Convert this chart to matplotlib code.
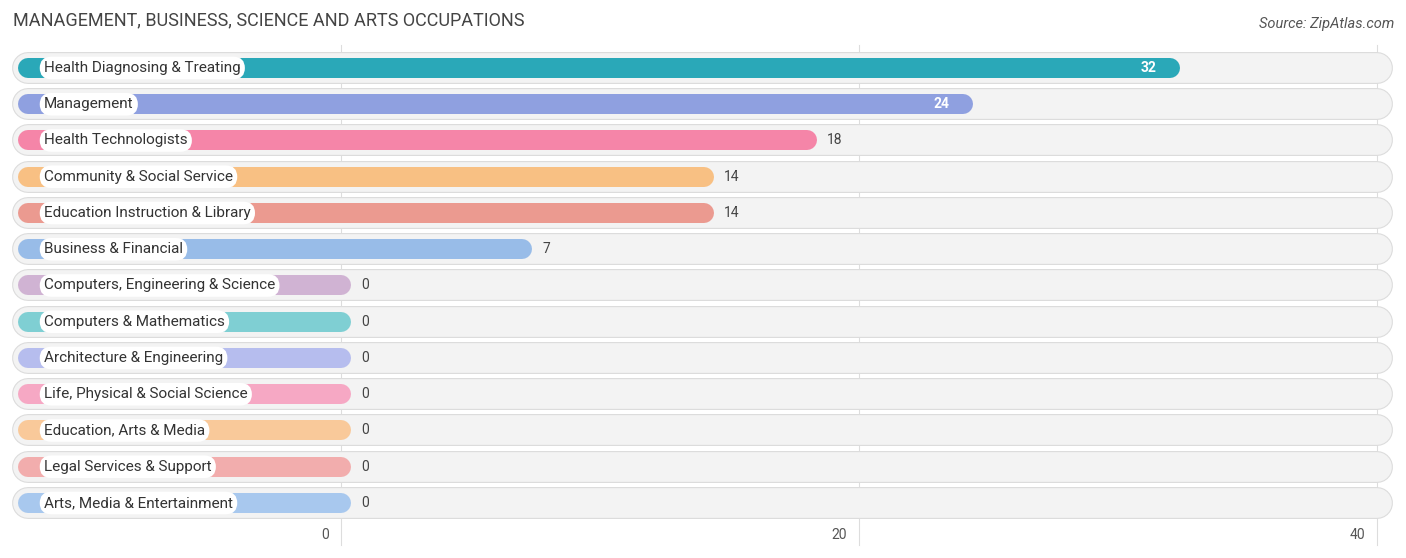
import matplotlib
matplotlib.use("Agg")
import matplotlib.pyplot as plt

categories = ["Health Diagnosing & Treating", "Management", "Health Technologists",
              "Community & Social Service", "Education Instruction & Library",
              "Business & Financial", "Computers, Engineering & Science",
              "Computers & Mathematics", "Architecture & Engineering",
              "Life, Physical & Social Science", "Education, Arts & Media",
              "Legal Services & Support", "Arts, Media & Entertainment"]
values = [32, 24, 18, 14, 14, 7, 0, 0, 0, 0, 0, 0, 0]
colors = ["#2aa8b8", "#8fa0e0", "#f585a8", "#f8c083", "#eb9a90", "#98bce8", "#d0b3d3",
          "#7fcfd3", "#b6bdee", "#f6a8c4", "#f9c99a", "#f2adad", "#a8c8ee"]
ticks = [0, 20, 40]

W, H = 1406, 558
fig = plt.figure(figsize=(W/100, H/100), dpi=100)
ax = fig.add_axes([0, 0, 1, 1])
ax.axis("off")
x0, ppu = 341, 25.9
y0, ppr = 68, 36.25
px = lambda p: (p - x0) / ppu
py = lambda p: (p - y0) / ppr
ax.set_xlim(px(0), px(W))
ax.set_ylim(py(H), py(0))

for t in ticks:
    ax.plot([t, t], [py(45), py(545)], color="#dddddd", lw=0.8, zorder=0)
    ax.text(t - 0.45, py(535), str(t), ha="right", va="center", fontsize=10, color="#555555", family="Roboto")

start = px(28)
for i, (c, v, col) in enumerate(zip(categories, values, colors)):
    ax.plot([start, px(1377)], [i, i], color="#dcdcdc", lw=23, solid_capstyle="round", zorder=1)
    ax.plot([start, px(1377)], [i, i], color="#f3f3f3", lw=21.4, solid_capstyle="round", zorder=1)
    ax.plot([start, v], [i, i], color=col, lw=14.4, solid_capstyle="round", zorder=2)
    ax.text(px(44), i, c, ha="left", va="center", fontsize=11, color="#333333", family="Roboto",
            bbox=dict(boxstyle="round,pad=0.28,rounding_size=0.75", fc="white", ec="none"), zorder=3)
    if v >= 20:
        ax.text(v - 0.5, i, str(v), ha="right", va="center", fontsize=10, color="white",
                fontweight="bold", family="Roboto", zorder=3)
    else:
        ax.text(v + px(341 + 20), i, str(v), ha="left", va="center", fontsize=10, color="#444444",
                family="Roboto", zorder=3)

fig.text(13/W, 1 - 20/H, "MANAGEMENT, BUSINESS, SCIENCE AND ARTS OCCUPATIONS", ha="left", va="center",
         fontsize=13, color="#444444", family="Roboto")
fig.text(1394/W, 1 - 24/H, "Source: ZipAtlas.com", ha="right", va="center", fontsize=10.5,
         color="#555555", style="italic", family="Roboto")
fig.savefig("out.png", dpi=100)
